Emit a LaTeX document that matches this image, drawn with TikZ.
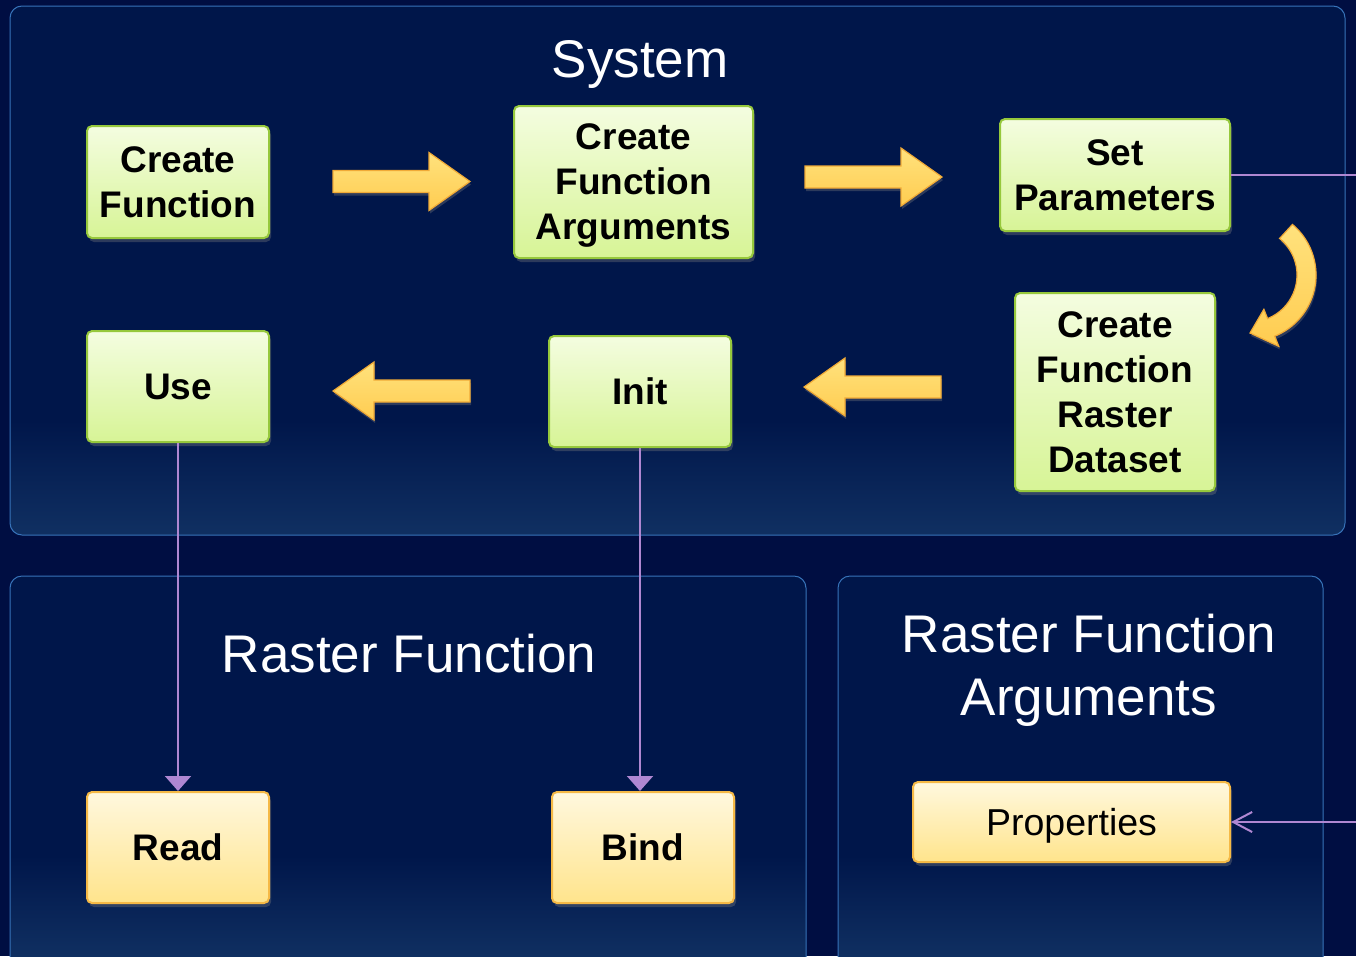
\documentclass[tikz,border=0pt]{standalone}
\usepackage{fontspec}
\setmainfont{Liberation Sans}
\usetikzlibrary{arrows.meta,shadows}
\definecolor{bg}{RGB}{0,14,66}
\definecolor{paneltop}{RGB}{0,22,74}
\definecolor{panelbot}{RGB}{16,48,98}
\definecolor{panelborder}{RGB}{55,115,185}
\definecolor{gtop}{RGB}{244,253,224}
\definecolor{gbot}{RGB}{215,244,150}
\definecolor{gborder}{RGB}{150,200,60}
\definecolor{ytop}{RGB}{255,248,222}
\definecolor{ybot}{RGB}{255,228,140}
\definecolor{yborder}{RGB}{245,185,70}
\definecolor{atop}{RGB}{255,226,125}
\definecolor{abot}{RGB}{255,204,80}
\definecolor{aborder}{RGB}{240,170,55}
\definecolor{conncol}{RGB}{175,135,210}
\newcommand\bst{\rule[-0.212em]{0pt}{1.117em}}
\begin{document}
\begin{tikzpicture}[x=1pt,y=1pt,
  boxbase/.style={rectangle, rounded corners=5pt, line width=2pt, align=center,
    inner sep=0pt, drop shadow={opacity=0.35,shadow xshift=2pt,shadow yshift=-4pt}},
  gbox/.style={boxbase, draw=gborder, top color=gtop, bottom color=gbot,
    font=\fontsize{37}{45}\selectfont\bfseries},
  ybox/.style={boxbase, draw=yborder, top color=ytop, bottom color=ybot,
    font=\fontsize{37}{45}\selectfont\bfseries},
  ptitle/.style={text=white, inner sep=0pt, font=\fontsize{53}{63}\selectfont},
  panelframe/.style={draw=panelborder, line width=1pt, rounded corners=12pt},
  conn/.style={draw=conncol, line width=2pt},
  blockarrow/.style={draw=aborder, line width=1.2pt, top color=atop, bottom color=abot,
    drop shadow={opacity=0.35,shadow xshift=1pt,shadow yshift=-3pt}},
  pics/barrow/.style={code={
    \path[blockarrow] (0,11) -- (96,11) -- (96,29) -- (137,0) -- (96,-29)
      -- (96,-11) -- (0,-11) -- cycle;}}
]
\useasboundingbox (0,0) rectangle (1356,-956);
\clip (0,0) rectangle (1356,-956);
\fill[bg] (0,0) rectangle (1356,-956);

% System panel
\fill[paneltop, rounded corners=12pt] (10,-6) rectangle (1345,-535);
\begin{scope}
  \clip[rounded corners=12pt] (10,-6) rectangle (1345,-535);
  \shade[top color=paneltop, bottom color=panelbot] (10,-420) rectangle (1345,-536);
\end{scope}
\draw[panelframe] (10,-6) rectangle (1345,-535);

% Raster Function panel
\fill[paneltop, rounded corners=12pt] (10,-576) rectangle (806,-990);
\begin{scope}
  \clip[rounded corners=12pt] (10,-576) rectangle (806,-990);
  \shade[top color=paneltop, bottom color=panelbot] (10,-855) rectangle (806,-960);
\end{scope}
\draw[panelframe] (10,-576) rectangle (806,-990);

% Raster Function Arguments panel
\fill[paneltop, rounded corners=12pt] (838,-576) rectangle (1323,-990);
\begin{scope}
  \clip[rounded corners=12pt] (838,-576) rectangle (1323,-990);
  \shade[top color=paneltop, bottom color=panelbot] (838,-855) rectangle (1323,-960);
\end{scope}
\draw[panelframe] (838,-576) rectangle (1323,-990);

% Titles
\node[ptitle, anchor=base] (systitle) at (640,-77) {System};
\node[ptitle, anchor=base] (rftitle) at (409,-672) {Raster Function};
\node[ptitle, align=center, anchor=center] (rfatitle) at (1089,-670) {Raster Function\\Arguments};

% Boxes
\node[gbox, minimum width=182pt, minimum height=112pt] (cf) at (178,-182) {\bst Create\\\bst Function};
\node[gbox, minimum width=239pt, minimum height=152pt] (cfa) at (633.5,-182) {\bst Create\\\bst Function\\\bst Arguments};
\node[gbox, minimum width=230pt, minimum height=112pt] (setp) at (1115,-175) {\bst Set\\\bst Parameters};
\node[gbox, minimum width=200pt, minimum height=198pt] (cfrd) at (1115,-392) {\bst Create\\\bst Function\\\bst Raster\\\bst Dataset};
\node[gbox, minimum width=182pt, minimum height=111pt] (use) at (178,-386.5) {\bst Use};
\node[gbox, minimum width=182pt, minimum height=111pt] (init) at (640,-391.5) {\bst Init};
\node[ybox, minimum width=182pt, minimum height=111pt] (read) at (178,-847.5) {\bst Read};
\node[ybox, minimum width=182pt, minimum height=111pt] (bind) at (643,-847.5) {\bst Bind};
\node[ybox, minimum width=317pt, minimum height=80pt, font=\fontsize{37.5}{45}\selectfont] (props) at (1071.5,-822) {\bst Properties};

% Block arrows
\pic at (333,-181.5) {barrow};
\pic at (805,-177) {barrow};
\pic[xscale=-1] at (470,-391) {barrow};
\pic[xscale=-1] at (941,-387) {barrow};

% Curved arrow
\begin{scope}[shift={(1250,-275)}]
  \path[blockarrow] (50:66) arc[start angle=50, end angle=-68, radius=66]
    -- (-68:77) -- (-90:58) -- (-68:37) -- (-68:47)
    arc[start angle=-68, end angle=51, radius=47] -- cycle;
\end{scope}

% Connectors
\draw[conn, -{Triangle[width=26pt,length=15pt]}] (use.south) -- (read.north);
\draw[conn, -{Triangle[width=26pt,length=15pt]}] (init.south) -- (init.south |- bind.north);
\draw[conn, -{Straight Barb[length=19pt,width=20pt]}] (setp.east) -- ++(160,0) |- (props.east);
\end{tikzpicture}
\end{document}
